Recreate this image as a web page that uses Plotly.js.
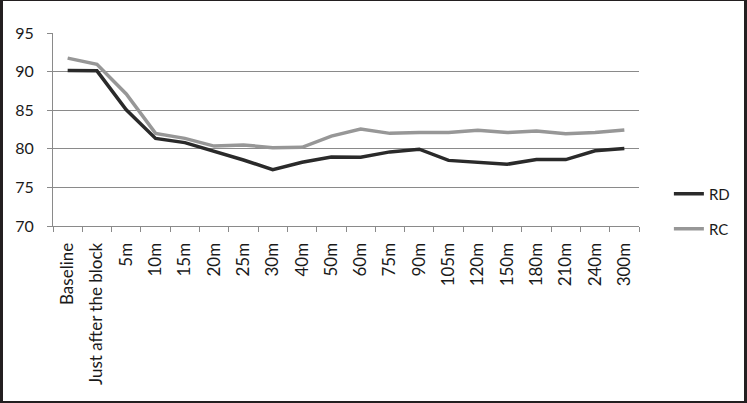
<!DOCTYPE html>
<html>
<head>
<meta charset="utf-8">
<script src="https://cdn.plot.ly/plotly-3.0.1.min.js"></script>
<style>
  html, body { margin: 0; padding: 0; background: #fff; }
  #wrap { position: relative; width: 747px; height: 403px; overflow: hidden; }
  #chart { position: absolute; left: 0; top: 0; width: 747px; height: 403px; }
  #frame { position: absolute; left: 0; top: 0; width: 747px; height: 403px; box-sizing: border-box;
           border-style: solid; border-color: #231f20; border-width: 1px 3px 2px 3px; pointer-events: none; }
</style>
</head>
<body>
<div id="wrap">
  <div id="chart"></div>
  <div id="frame"></div>
</div>
<script>
const categories = ["Baseline", "Just after the block", "5m", "10m", "15m", "20m", "25m", "30m", "40m", "50m",
                    "60m", "75m", "90m", "105m", "120m", "150m", "180m", "210m", "240m", "300m"];
const rdValues = [90.15, 90.1, 85.05, 81.35, 80.8, 79.7, 78.55, 77.3, 78.25, 78.95,
                  78.9, 79.6, 79.95, 78.5, 78.25, 78.0, 78.6, 78.6, 79.75, 80.05];
const rcValues = [91.75, 90.95, 87.1, 82.0, 81.35, 80.35, 80.5, 80.15, 80.2, 81.65,
                  82.55, 82.0, 82.1, 82.1, 82.4, 82.1, 82.3, 81.95, 82.1, 82.45];
const yTicks = [70, 75, 80, 85, 90, 95];

const font = "Lato, 'Open Sans', sans-serif";

const traces = [
  { x: categories, y: rdValues, name: "RD", type: "scatter", mode: "lines",
    line: { color: "#2a2a2a", width: 3.5 }, legend: "legend" },
  { x: categories, y: rcValues, name: "RC", type: "scatter", mode: "lines",
    line: { color: "#979797", width: 3.5 }, legend: "legend2" }
];

const legendBase = {
  xref: "paper", yref: "paper", xanchor: "left", yanchor: "middle",
  bgcolor: "rgba(0,0,0,0)", borderwidth: 0,
  font: { family: font, size: 15, color: "#1a1a1a" },
  itemwidth: 30
};

const layout = {
  width: 747, height: 403,
  margin: { l: 53, r: 106, t: 33, b: 177 },
  paper_bgcolor: "#ffffff", plot_bgcolor: "#ffffff",
  font: { family: font, size: 14, color: "#1a1a1a" },
  showlegend: true,
  legend: Object.assign({}, legendBase, { x: 1.051, y: (403 - 177 - 194) / (403 - 177 - 33) }),
  legend2: Object.assign({}, legendBase, { x: 1.051, y: (403 - 177 - 229) / (403 - 177 - 33) }),
  xaxis: {
    type: "category", tickson: "boundaries", ticks: "outside", ticklen: 5, tickcolor: "#8a8a8a",
    showline: true, linecolor: "#8a8a8a", linewidth: 1, showgrid: false,
    tickangle: -90, tickfont: { family: font, size: 17, color: "#1a1a1a" }, ticklabelstandoff: 9,
    range: [-0.5, categories.length - 0.5], fixedrange: true
  },
  yaxis: {
    range: [70, 95], tickvals: yTicks, ticks: "outside", ticklen: 5, tickcolor: "#8a8a8a",
    showline: true, linecolor: "#8a8a8a", linewidth: 1,
    showgrid: true, gridcolor: "#8a8a8a", gridwidth: 1, zeroline: false,
    tickfont: { family: font, size: 16, color: "#1a1a1a" }, ticklabelstandoff: 10, fixedrange: true
  }
};

Plotly.newPlot("chart", traces, layout, { displayModeBar: false, staticPlot: true });
</script>
</body>
</html>
